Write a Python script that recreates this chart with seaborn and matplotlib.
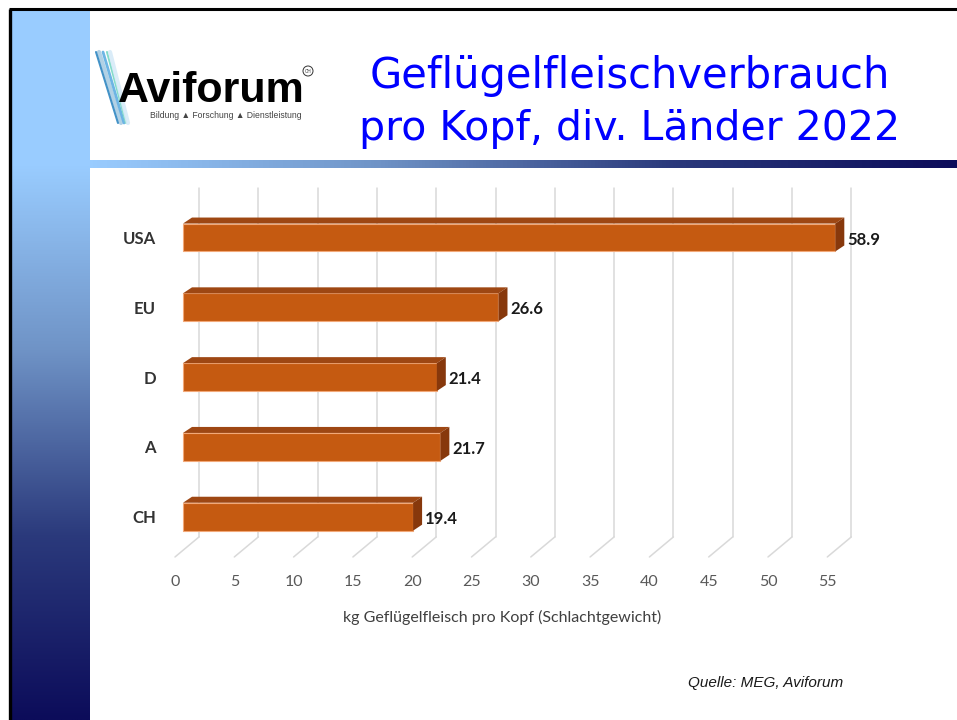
import numpy as np
import pandas as pd
import matplotlib.pyplot as plt
import matplotlib.transforms as mtransforms
import seaborn as sns
from matplotlib.patches import Polygon, Circle, Rectangle
from matplotlib.colors import LinearSegmentedColormap

# =====================================================
# DATA
# =====================================================

countries = ["USA", "EU", "D", "A", "CH"]
kg_per_head = [58.9, 26.6, 21.4, 21.7, 19.4]
x_ticks = [0, 5, 10, 15, 20, 25, 30, 35, 40, 45, 50, 55]
axis_max = 55  # excel axis stops at 55, the USA bar is cut there

title_lines = ["Geflügelfleischverbrauch", "pro Kopf, div. Länder 2022"]
x_label = "kg Geflügelfleisch pro Kopf (Schlachtgewicht)"
source = "Quelle: MEG, Aviforum"
logo_name = "Aviforum"
logo_sub = "Bildung ▲ Forschung ▲ Dienstleistung"

df = pd.DataFrame({"Land": countries,
                   "kg": np.minimum(kg_per_head, axis_max)})

# =====================================================
# STYLE
# =====================================================

sns.set_style("white")
plt.rcParams["font.family"] = ["Lato", "DejaVu Sans"]

orange = "#C55A11"
orange_top = "#9E4713"
orange_side = "#87380C"
grid_col = "#D9D9D9"

W, H = 957, 720
px_x = 11.86   # pixels per kg on the front face
px_y = 69.8    # pixels per category
depth_x = 9 / px_x
depth_y = 6 / px_y
wall_x = 16 / px_x

fig = plt.figure(figsize=(W / 100, H / 100), dpi=100)

# =====================================================
# SLIDE BACKGROUND (sidebar, header stripe, logo, title)
# =====================================================

bg = fig.add_axes([0, 0, 1, 1], zorder=0)
slide_cmap = LinearSegmentedColormap.from_list("slide", ["#99CCFF", "#6F93C6", "#2B3A7C", "#0C0C5A"])
grad = np.linspace(0, 1, 256)
bg.add_patch(Rectangle((11, 10), 79, 156, color="#99CCFF", lw=0))
bg.imshow(grad.reshape(-1, 1), cmap=slide_cmap, extent=[11, 90, 720, 165], aspect="auto")
bg.imshow(grad.reshape(1, -1), cmap=slide_cmap, extent=[90, 957, 168, 160], aspect="auto")
bg.plot([9, 957], [9, 9], color="black", lw=2.2, solid_capstyle="butt")
bg.plot([9.5, 9.5], [9, 720], color="black", lw=2.4, solid_capstyle="butt")

# feather strokes of the logo
for (x0, x1, c, lw) in [(99, 121, "#A9CCE3", 3), (103, 124, "#5DADE2", 2),
                        (96, 118, "#2E86C1", 1.5), (107, 126, "#76D7C4", 1.5),
                        (110, 128, "#D6EAF8", 3)]:
    bg.plot([x0, x1], [52, 123], color=c, lw=lw, alpha=0.9)

bg.text(118, 102, logo_name, family=["Liberation Sans"],
        weight="bold", fontsize=31, color="black", ha="left", va="baseline")
bg.add_patch(Circle((308, 71), 5.0, fill=False, ec="#333333", lw=0.7))
bg.text(308, 71.5, "CH", fontsize=3.3, ha="center", va="center",
        family=["Liberation Sans"], color="#333333")
bg.text(150, 115, logo_sub, fontsize=6.2, color="#444444", ha="left", va="center",
        family=["Liberation Sans", "DejaVu Sans"])

bg.text(630, 88, title_lines[0], fontsize=30, color="#0000FF",
        family=["DejaVu Sans"], ha="center", va="baseline")
bg.text(630, 140, title_lines[1], fontsize=29.5, color="#0000FF",
        family=["DejaVu Sans"], ha="center", va="baseline")

bg.text(843, 683, source, fontsize=11, style="italic", color="#1A1A1A",
        family=["Liberation Sans"], ha="right", va="center")

bg.set_xlim(0, W)
bg.set_ylim(H, 0)
bg.axis("off")

# =====================================================
# CHART
# =====================================================

L, R, T, B = 165, 950, 180, 568
ax = fig.add_axes([L / W, (H - B) / H, (R - L) / W, (B - T) / H], zorder=1)
ax.patch.set_alpha(0)

sns.barplot(data=df, x="kg", y="Land", orient="h", width=0.4, color=orange,
            saturation=1, edgecolor="#F2A878", linewidth=0.8, zorder=3, ax=ax)
bars = list(ax.patches)

ax.set_xlim((L - 183) / px_x, (R - 183) / px_x)
ax.set_ylim((B - 237.5) / px_y, (T - 237.5) / px_y)

# back wall gridlines + floor
n = len(countries)
wall_top = -0.71
wall_bottom = n - 1 + 0.29
floor_front = n - 1 + 0.577
for v in x_ticks:
    ax.plot([v + wall_x, v + wall_x], [wall_top, wall_bottom], color=grid_col, lw=1.1, zorder=1)
    ax.plot([v + wall_x, v - 8 / px_x], [wall_bottom, floor_front], color=grid_col, lw=1.1, zorder=1)

# 3d faces of the bars
for p in bars:
    x0, y0 = p.get_x(), p.get_y()
    w, h = p.get_width(), p.get_height()
    top = Polygon([(x0, y0), (x0 + depth_x, y0 - depth_y),
                   (x0 + w + depth_x, y0 - depth_y), (x0 + w, y0)],
                  closed=True, fc=orange_top, ec="none", zorder=3)
    side = Polygon([(x0 + w, y0), (x0 + w + depth_x, y0 - depth_y),
                    (x0 + w + depth_x, y0 + h - depth_y), (x0 + w, y0 + h)],
                   closed=True, fc=orange_side, ec="none", zorder=3)
    ax.add_patch(top)
    ax.add_patch(side)

# value labels
for p, v in zip(bars, kg_per_head):
    ax.text(p.get_x() + p.get_width() + depth_x + 3 / px_x,
            p.get_y() + p.get_height() / 2 + 0.03,
            f"{v:.1f}", fontsize=12, weight="bold", color="#1A1A1A",
            ha="left", va="center", zorder=4)

# axes text
ax.set_xticks(x_ticks)
ax.set_xticklabels([str(t) for t in x_ticks])
ax.tick_params(axis="x", length=0, pad=5, labelsize=11.5, labelcolor="#595959")
shift = mtransforms.ScaledTranslation(-8 / 100, 0, fig.dpi_scale_trans)
for lab in ax.get_xticklabels():
    lab.set_transform(lab.get_transform() + shift)

ax.tick_params(axis="y", length=0, pad=6.5, labelsize=12, labelcolor="#333333")
for lab in ax.get_yticklabels():
    lab.set_fontweight("bold")

ax.set_ylabel("")
ax.set_xlabel(x_label, fontsize=11.5, color="#404040")
ax.xaxis.set_label_coords((502 - L) / (R - L), -(617 - B) / (B - T))
ax.xaxis.label.set_va("center")

sns.despine(ax=ax, left=True, bottom=True)

plt.savefig("out.png", dpi=100)
